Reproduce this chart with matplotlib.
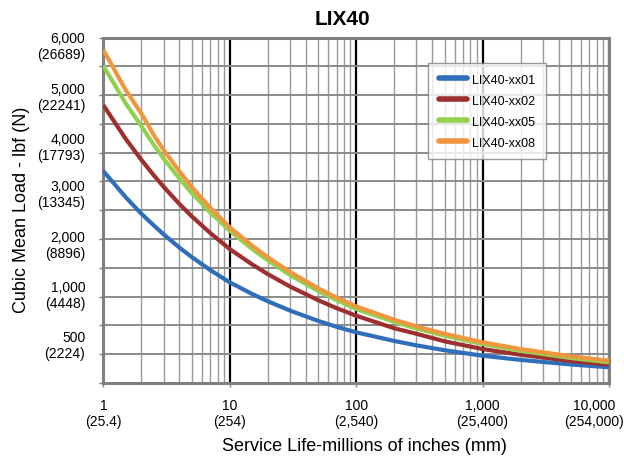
import matplotlib
matplotlib.use("Agg")
import matplotlib.pyplot as plt
import numpy as np
from matplotlib.ticker import LogLocator, NullFormatter

plt.rcParams['font.family'] = ['Liberation Sans', 'DejaVu Sans']

# service life, millions of inches
life = [1, 1.5, 2, 2.5, 3, 4, 5, 7, 10, 15, 20, 30, 50, 70, 100,
        200, 300, 500, 1000, 2000, 5000, 10000]

# cubic mean load, lbf
load_xx01 = [3680, 3228, 2940, 2739, 2581, 2351, 2188, 1962, 1748, 1547, 1420, 1257, 1079, 976, 880,
             730, 654, 569, 474, 401, 322, 273]
load_xx02 = [4826, 4242, 3875, 3610, 3407, 3108, 2896, 2606, 2326, 2061, 1891, 1675, 1438, 1300, 1168,
             951, 855, 724, 590, 490, 383, 318]
load_xx05 = [5508, 4860, 4460, 4140, 3895, 3550, 3300, 2963, 2644, 2329, 2129, 1875, 1597, 1438, 1285,
             1060, 947, 821, 677, 559, 434, 359]
load_xx08 = [5786, 5090, 4680, 4310, 4045, 3675, 3405, 3046, 2703, 2387, 2184, 1927, 1646, 1484, 1331,
             1099, 984, 855, 707, 590, 464, 387]

names = ['LIX40-xx01', 'LIX40-xx02', 'LIX40-xx05', 'LIX40-xx08']
colors = ['#2F6EBA', '#9E2F2F', '#92D050', '#F0963F']

xticks = [1, 10, 100, 1000, 10000]
xtick_labels = ['1\n(25.4)', '10\n(254)', '100\n(2,540)', '1,000\n(25,400)', '10,000\n(254,000)']

# the y labels sit where the original put them, not on the grid lines
ytick_labels = ['0', '500\n(2224)', '1,000\n(4448)', '2,000\n(8896)', '3,000\n(13345)',
                '4,000\n(17793)', '5,000\n(22241)', '6,000\n(26689)']
ytick_pos = [0, 712, 1580, 2448, 3333, 4149, 5017, 5903]

fig = plt.figure(figsize=(6.24, 4.64), dpi=100)
ax = fig.add_axes([0.1656, 0.1724, 0.8104, 0.7446])

loads = [load_xx01, load_xx02, load_xx05, load_xx08]
for load, name, c in zip(loads, names, colors):
    ax.plot(life, load, color=c, lw=3, label=name, solid_capstyle='butt',
            solid_joinstyle='round', zorder=3)

ax.set_xscale('log')
ax.set_xlim(1, 10000)
ax.set_ylim(0, 6000)

# last label is drawn separately, nudged left so it stays inside the figure
ax.set_xticks(xticks, xtick_labels[:-1] + [''], fontsize=10)
ax.annotate(xtick_labels[-1], xy=(xticks[-1], 0), xytext=(-11, -11), textcoords='offset points',
            ha='center', va='top', fontsize=10, annotation_clip=False)
ax.xaxis.set_minor_locator(LogLocator(base=10, subs=np.arange(2, 10)))
ax.xaxis.set_minor_formatter(NullFormatter())

ax.set_yticks(np.arange(0, 6001, 500))
ax.set_yticklabels([])
ax.set_yticks(ytick_pos, ytick_labels, minor=True, fontsize=10, ha='right')

ax.tick_params(axis='x', which='major', length=3, width=1, color='#7f7f7f', pad=8)
ax.tick_params(axis='x', which='minor', length=0)
ax.tick_params(axis='y', which='major', length=3, width=1, color='#7f7f7f')
ax.tick_params(axis='y', which='minor', length=0, pad=13)

ax.grid(which='major', axis='x', color='black', lw=1.6, zorder=1)
ax.grid(which='minor', axis='x', color='#9a9a9a', lw=1.0, zorder=1)
ax.grid(which='major', axis='y', color='#8a8a8a', lw=1.4, zorder=1)
ax.set_axisbelow(True)

for s in ax.spines.values():
    s.set_color('#808080')
    s.set_linewidth(2.2)

fig.text(0.548, 0.957, 'LIX40', ha='center', va='center', fontsize=15, fontweight='bold')
fig.text(0.035, 0.547, 'Cubic Mean Load - lbf (N)', rotation=90, ha='center', va='center', fontsize=13)
fig.text(0.584, 0.038, 'Service Life-millions of inches (mm)', ha='center', va='center', fontsize=13)

leg = ax.legend(loc='upper left', bbox_to_anchor=(0.642, 0.926), borderaxespad=0,
                fontsize=9, frameon=True, fancybox=False, edgecolor='#808080',
                handlelength=2.3, handletextpad=0.4, labelspacing=0.72, borderpad=0.85)
leg.get_frame().set_linewidth(1.0)
for h in leg.get_lines():
    h.set_linewidth(4)
    h.set_solid_capstyle('round')

fig.savefig('out.png', dpi=100)
